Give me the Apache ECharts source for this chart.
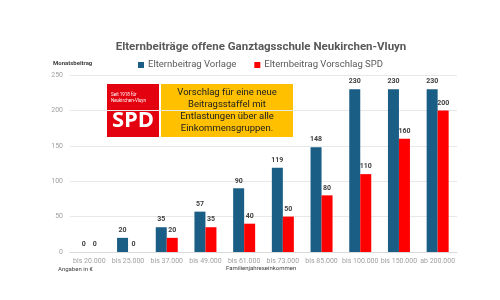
<!DOCTYPE html>
<html><head><meta charset="utf-8">
<script src="https://cdn.jsdelivr.net/npm/echarts@6/dist/echarts.min.js"></script>
<style>html,body{margin:0;padding:0;background:#fff}#c{width:500px;height:300px}</style>
</head><body><div id="c"></div>
<script>
const categories = ['bis 20.000','bis 25.000','bis 37.000','bis 49.000','bis 61.000','bis 73.000','bis 85.000','bis 100.000','bis 150.000','ab 200.000'];
const vorlage = [0,20,35,57,90,119,148,230,230,230];
const spd = [0,0,20,35,40,50,80,110,160,200];
const yTicks = [0,50,100,150,200,250];

const chart = echarts.init(document.getElementById('c'));
const font = 'Roboto, "Open Sans", sans-serif';
const lbl = {show:true, position:'top', distance:4, fontSize:7, fontWeight:'bold', color:'#404040', fontFamily:font};
chart.setOption({
  animation:false,
  title:{text:'Elternbeiträge offene Ganztagsschule Neukirchen-Vluyn', left:256, textAlign:'center', top:36,
    textStyle:{fontSize:11.5, fontWeight:'bold', color:'#595959', fontFamily:font}},
  legend:{top:55, left:133, itemWidth:6, itemHeight:6, itemGap:18, icon:'rect',
    textStyle:{fontSize:9.5, color:'#595959', fontFamily:font, padding:[0,0,0,-1]}},
  grid:{left:70, right:43, top:75, bottom:48},
  xAxis:{type:'category', data:categories,
    axisLine:{show:true, lineStyle:{color:'#d9d9d9'}}, axisTick:{show:false},
    axisLabel:{fontSize:7, color:'#a0a0a0', margin:6, fontFamily:font, interval:0}},
  yAxis:{type:'value', min:0, max:250, interval:50,
    axisLabel:{fontSize:7, color:'#a0a0a0', margin:7, fontFamily:font},
    splitLine:{lineStyle:{color:'#e8e8e8'}}, axisLine:{show:false}, axisTick:{show:false}},
  series:[
    {name:'Elternbeitrag Vorlage', type:'bar', data:vorlage, barWidth:11, barGap:'0%', itemStyle:{color:'#1B5E85'}, label:lbl},
    {name:'Elternbeitrag Vorschlag SPD', type:'bar', data:spd, barWidth:11, itemStyle:{color:'#FF0000'}, label:lbl}
  ],
  graphic:[
    {type:'text', left:53, top:60, style:{text:'Monatsbeitrag', fontSize:6, fontWeight:'bold', fill:'#404040', fontFamily:font}},
    {type:'text', left:58, top:266, style:{text:'Angaben in €', fontSize:6, fill:'#404040', fontFamily:font}},
    {type:'text', left:226, top:265, style:{text:'Familienjahreseinkommen', fontSize:6, fill:'#404040', fontFamily:font}},
    {type:'rect', shape:{x:107, y:84, width:52, height:53}, style:{fill:'#E3000F'}},
    {type:'text', x:111, y:92, style:{text:'Seit 1918 für\nNeukirchen-Vluyn', fontSize:4.5, lineHeight:6, fill:'#fff', fontFamily:font}},
    {type:'text', x:133, y:121, style:{text:'SPD', fontSize:22, fontWeight:'bold', fill:'#fff', fontFamily:'"Open Sans", sans-serif', align:'center', verticalAlign:'middle'}},
    {type:'rect', shape:{x:161, y:84, width:132, height:53}, style:{fill:'#FFC000'}},
    {type:'text', x:227, y:110.5, style:{text:'Vorschlag für eine neue\nBeitragsstaffel mit\nEntlastungen über alle\nEinkommensgruppen.', fontSize:9.5, lineHeight:12, fill:'#202020', fontFamily:font, align:'center', verticalAlign:'middle'}}
  ]
});
</script></body></html>
